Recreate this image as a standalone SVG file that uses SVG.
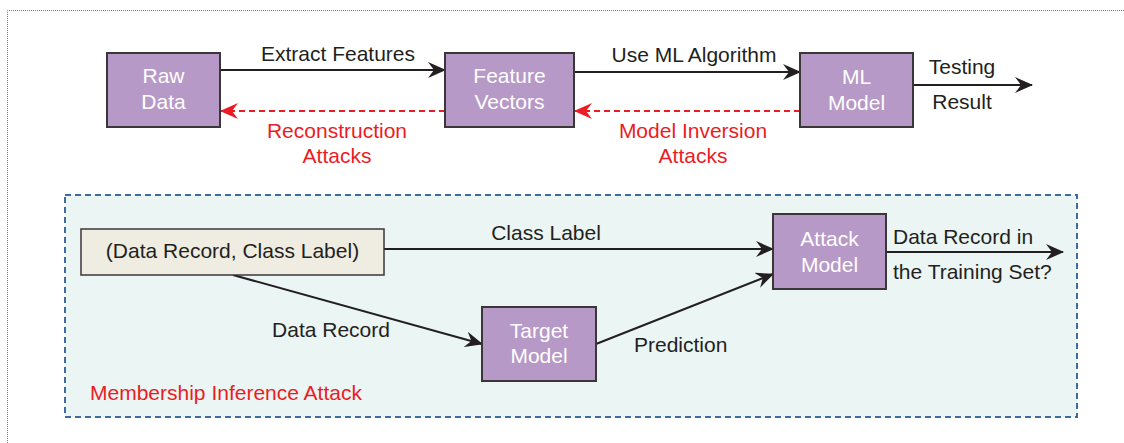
<svg xmlns="http://www.w3.org/2000/svg" width="1124" height="443" viewBox="0 0 1124 443">
<style>
text{font-family:"Liberation Sans",Arial,sans-serif;font-size:21px}
.lbl{fill:#231f20}
.wt{fill:#ffffff;text-anchor:middle}
.red{fill:#ec1c24}
.box{fill:#b799c7;stroke:#3b3638;stroke-width:2}
.ln{stroke:#231f20;stroke-width:2;fill:none}
.rd{stroke:#ec1c24;stroke-width:2;fill:none;stroke-dasharray:6 4}
.mid{text-anchor:middle}
</style>
<defs>
<marker id="ab" viewBox="0 0 18 16" refX="17" refY="8" markerWidth="18" markerHeight="16" markerUnits="userSpaceOnUse" orient="auto">
<path d="M0,0 L18,8 L0,16 L6,8 z" fill="#231f20"/>
</marker>
<marker id="ar" viewBox="0 0 18 16" refX="17" refY="8" markerWidth="18" markerHeight="16" markerUnits="userSpaceOnUse" orient="auto">
<path d="M0,0 L18,8 L0,16 L6,8 z" fill="#ec1c24"/>
</marker>
</defs>
<rect width="1124" height="443" fill="#ffffff"/>
<path d="M7.5,443 V10.5 H1124" fill="none" stroke="#7a7a7a" stroke-width="1" stroke-dasharray="1 1"/>
<g id="mia-region">
<rect x="65" y="195" width="1012" height="222" fill="#ebf5f4" stroke="#3d6b9e" stroke-width="2" stroke-dasharray="6 4"/>
<text x="90" y="400" class="red">Membership Inference Attack</text>
</g>
<g id="connectors">
<line x1="220" y1="70" x2="445" y2="70" class="ln" marker-end="url(#ab)"/>
<line x1="574" y1="72" x2="800" y2="72" class="ln" marker-end="url(#ab)"/>
<line x1="913" y1="85" x2="1032" y2="85" class="ln" marker-end="url(#ab)"/>
<line x1="445" y1="111" x2="221" y2="111" class="rd" marker-end="url(#ar)"/>
<line x1="800" y1="111" x2="575" y2="111" class="rd" marker-end="url(#ar)"/>
<line x1="384" y1="249" x2="773" y2="249" class="ln" marker-end="url(#ab)"/>
<line x1="233" y1="275" x2="482" y2="344" class="ln" marker-end="url(#ab)"/>
<line x1="596" y1="344" x2="773" y2="274" class="ln" marker-end="url(#ab)"/>
<line x1="886" y1="252" x2="1063" y2="252" class="ln" marker-end="url(#ab)"/>
<text x="338" y="61" class="lbl mid">Extract Features</text>
<text x="694" y="62" class="lbl mid">Use ML Algorithm</text>
<text x="962" y="74" class="lbl mid">Testing</text>
<text x="962" y="109" class="lbl mid">Result</text>
<text x="337" y="138" class="red mid">Reconstruction</text>
<text x="337" y="163" class="red mid">Attacks</text>
<text x="693" y="138" class="red mid">Model Inversion</text>
<text x="693" y="163" class="red mid">Attacks</text>
<text x="546" y="240" class="lbl mid">Class Label</text>
<text x="331" y="337" class="lbl mid">Data Record</text>
<text x="634" y="352" class="lbl">Prediction</text>
<text x="893" y="244" class="lbl">Data Record in</text>
<text x="893" y="279" class="lbl">the Training Set?</text>
</g>
<g id="raw-data">
<rect x="107" y="53" width="113" height="74" class="box"/>
<text x="163.5" y="83" class="wt">Raw</text>
<text x="163.5" y="109" class="wt">Data</text>
</g>
<g id="feature-vectors">
<rect x="445" y="53" width="129" height="74" class="box"/>
<text x="509.5" y="83" class="wt">Feature</text>
<text x="509.5" y="109" class="wt">Vectors</text>
</g>
<g id="ml-model">
<rect x="800" y="53" width="113" height="74" class="box"/>
<text x="856.5" y="84" class="wt">ML</text>
<text x="856.5" y="110" class="wt">Model</text>
</g>
<g id="data-record">
<rect x="81" y="229" width="303" height="46" fill="#efece2" stroke="#3b3638" stroke-width="1.5"/>
<text x="232.5" y="258" class="lbl mid">(Data Record, Class Label)</text>
</g>
<g id="attack-model">
<rect x="773" y="214" width="113" height="75" class="box"/>
<text x="829.5" y="246" class="wt">Attack</text>
<text x="829.5" y="272" class="wt">Model</text>
</g>
<g id="target-model">
<rect x="482" y="307" width="114" height="74" class="box"/>
<text x="539" y="338" class="wt">Target</text>
<text x="539" y="363" class="wt">Model</text>
</g>
</svg>
